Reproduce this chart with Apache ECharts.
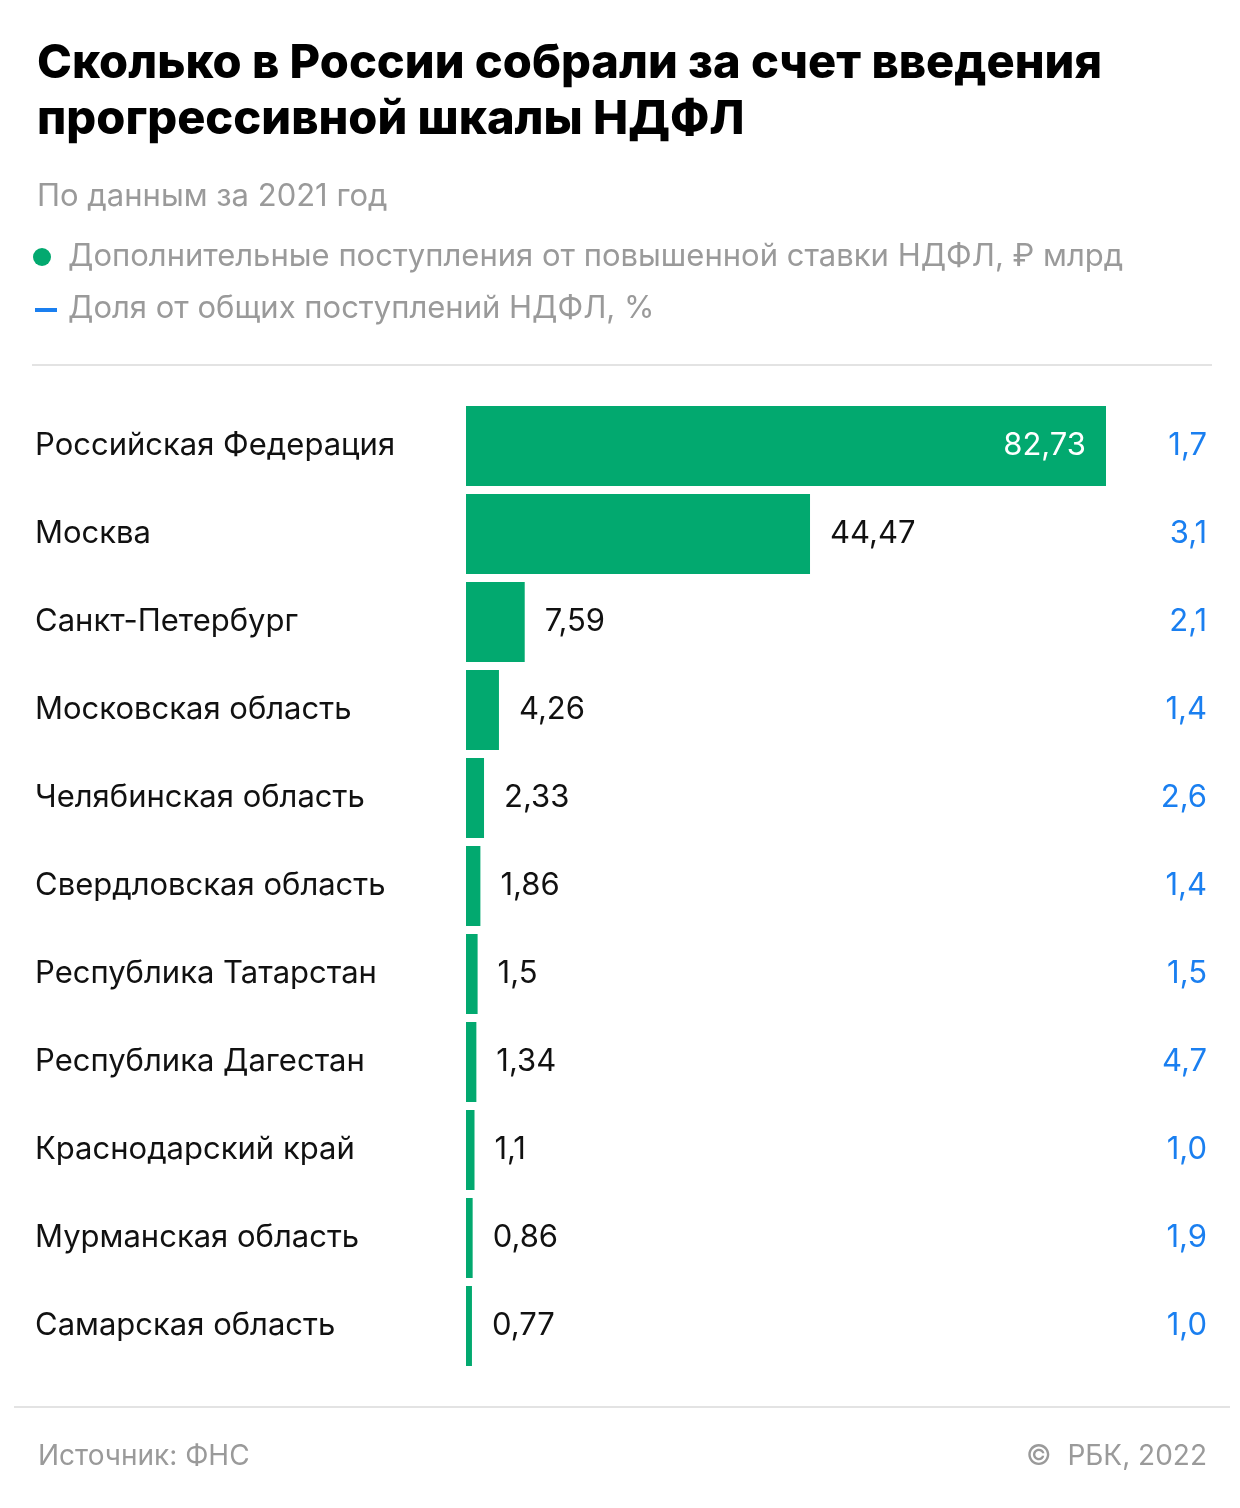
<!DOCTYPE html>
<html><head><meta charset="utf-8">
<script src="https://cdn.jsdelivr.net/npm/echarts@6/dist/echarts.min.js"></script>
<style>html,body{margin:0;padding:0;background:#fff}#c{width:1240px;height:1508px}</style>
</head><body><div id="c"></div>
<script>
const categories = ['Российская Федерация','Москва','Санкт-Петербург','Московская область','Челябинская область','Свердловская область','Республика Татарстан','Республика Дагестан','Краснодарский край','Мурманская область','Самарская область'];
const revenue = [82.73, 44.47, 7.59, 4.26, 2.33, 1.86, 1.5, 1.34, 1.1, 0.86, 0.77];
const sharePct = [1.7, 3.1, 2.1, 1.4, 2.6, 1.4, 1.5, 4.7, 1.0, 1.9, 1.0];

const FONT = 'Inter';
const fmt = v => String(v).replace('.', ',');
const fmt1 = v => v.toFixed(1).replace('.', ',');

const chart = echarts.init(document.getElementById('c'), null, {renderer:'canvas'});
chart.setOption({
  animation: false,
  backgroundColor: '#fff',
  textStyle: {fontFamily: FONT},
  grid: {left: 466, right: 134, top: 402, height: 968},
  xAxis: {type: 'value', min: 0, max: 82.73, show: false},
  yAxis: [{
    type: 'category', inverse: true, data: categories,
    axisLine: {show: false}, axisTick: {show: false},
    axisLabel: {align: 'left', margin: 431, fontSize: 31, color: '#111', fontFamily: FONT, padding: [4,0,0,0]}
  },{
    type: 'category', inverse: true, position: 'right', data: sharePct.map(fmt1),
    axisLine: {show: false}, axisTick: {show: false},
    axisLabel: {align: 'right', margin: 101, fontSize: 31, color: '#1a7ff0', fontFamily: FONT, padding: [4,0,0,0]}
  }],
  series: [{
    type: 'bar', yAxisIndex: 0, barWidth: 80,
    data: revenue.map((v, i) => i === 0 ? {value: v, label: {position: 'insideRight', color: '#fff', distance: 20}} : v),
    itemStyle: {color: '#02a96f'},
    label: {show: true, position: 'right', distance: 20, fontSize: 31, color: '#111', fontFamily: FONT, padding: [4,0,0,0], formatter: p => fmt(p.value)}
  }],
  graphic: [
    {type: 'text', left: 37, top: 36, style: {text: 'Сколько в России собрали за счет введения\nпрогрессивной шкалы НДФЛ', fontSize: 47, fontWeight: 800, lineHeight: 56, fill: '#000', fontFamily: FONT}},
    {type: 'text', left: 37, top: 181, style: {text: 'По данным за 2021 год', fontSize: 31, fill: '#9a9a9a', fontFamily: FONT}},
    {type: 'circle', shape: {cx: 42, cy: 257, r: 9}, style: {fill: '#02a96f'}},
    {type: 'text', left: 68, top: 241, style: {text: 'Дополнительные поступления от повышенной ставки НДФЛ, ₽ млрд', fontSize: 31, fill: '#9a9a9a', fontFamily: FONT}},
    {type: 'rect', shape: {x: 35, y: 308, width: 22, height: 4}, style: {fill: '#1a7ff0'}},
    {type: 'text', left: 68, top: 293, style: {text: 'Доля от общих поступлений НДФЛ, %', fontSize: 31, fill: '#9a9a9a', fontFamily: FONT}},
    {type: 'rect', shape: {x: 32, y: 364, width: 1180, height: 2}, style: {fill: '#e3e3e3'}},
    {type: 'rect', shape: {x: 14, y: 1406, width: 1216, height: 2}, style: {fill: '#e3e3e3'}},
    {type: 'text', left: 38, top: 1443, style: {text: 'Источник: ФНС', fontSize: 28, fill: '#9a9a9a', fontFamily: FONT}},
    {type: 'text', right: 33, top: 1443, style: {text: '©  РБК, 2022', fontSize: 28, fill: '#9a9a9a', fontFamily: FONT}}
  ]
});
</script></body></html>
